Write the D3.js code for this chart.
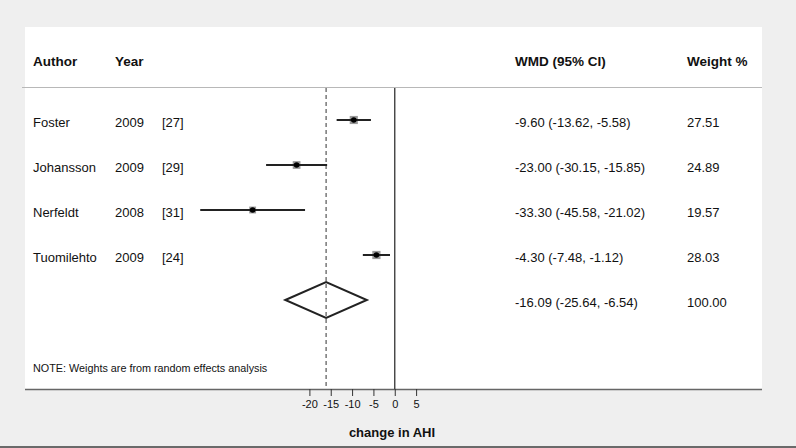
<!DOCTYPE html>
<html><head><meta charset="utf-8">
<script src="https://cdn.jsdelivr.net/npm/d3@7"></script>
<style>html,body{margin:0;padding:0;background:#efefef;}svg{display:block;font-family:"Liberation Sans",Arial,sans-serif;}</style>
</head><body>
<svg id="c" width="796" height="448"></svg>
<script>
const authors = ["Foster", "Johansson", "Nerfeldt", "Tuomilehto"];
const years = ["2009", "2009", "2008", "2009"];
const refs = ["[27]", "[29]", "[31]", "[24]"];
const wmd = [-9.60, -23.00, -33.30, -4.30];
const lower = [-13.62, -30.15, -45.58, -7.48];
const upper = [-5.58, -15.85, -21.02, -1.12];
const weights = [27.51, 24.89, 19.57, 28.03];
const pooled = {est: -16.09, lo: -25.64, hi: -6.54, weight: 100.00};
const xTicks = [-20, -15, -10, -5, 0, 5];
const xLabel = "change in AHI";
const note = "NOTE: Weights are from random effects analysis";

const svg = d3.select("#c");
const loc = d3.formatLocale({decimal: ".", thousands: ",", grouping: [3], currency: ["", ""], minus: "-"});
const fmt = loc.format(".2f");

// background & panel
svg.append("rect").attr("x",0).attr("y",0).attr("width",796).attr("height",448).attr("fill","#efefef");
svg.append("rect").attr("x",25).attr("y",27).attr("width",737).attr("height",362).attr("fill","#ffffff");
svg.append("rect").attr("x",0).attr("y",446).attr("width",796).attr("height",2).attr("fill","#6a6a6a");
svg.append("line").attr("x1",22).attr("x2",762).attr("y1",87.5).attr("y2",87.5).attr("stroke","#b8b8b8").attr("stroke-width",1);
svg.append("line").attr("x1",25).attr("x2",762).attr("y1",389.5).attr("y2",389.5).attr("stroke","#666").attr("stroke-width",1.5);

const x = d3.scaleLinear().domain([-20, 5]).range([309.4, 416.1]);
const rowY = d3.scalePoint().domain(d3.range(5)).range([120, 300]);
const boxSize = d3.scaleSqrt().domain([0, 30]).range([0, 8.5]);

// headers
const hdr = svg.append("g").attr("font-weight","bold").attr("font-size",13.5).attr("fill","#111");
hdr.append("text").attr("x",33).attr("y",66).text("Author");
hdr.append("text").attr("x",115).attr("y",66).text("Year");
hdr.append("text").attr("x",515).attr("y",66).text("WMD (95% CI)");
hdr.append("text").attr("x",687).attr("y",66).text("Weight %");

// reference lines
svg.append("line").attr("x1",x(0)).attr("x2",x(0)).attr("y1",88).attr("y2",389).attr("stroke","#333").attr("stroke-width",1.3);
svg.append("line").attr("x1",x(pooled.est)).attr("x2",x(pooled.est)).attr("y1",88).attr("y2",389)
  .attr("stroke","#333").attr("stroke-width",1).attr("stroke-dasharray","4,3");

// rows
const rows = svg.append("g").attr("font-size",13).attr("fill","#111");
authors.forEach((a,i)=>{
  const y = rowY(i);
  rows.append("text").attr("x",33).attr("y",y+7).text(a);
  rows.append("text").attr("x",115).attr("y",y+7).text(years[i]);
  rows.append("text").attr("x",162).attr("y",y+7).text(refs[i]);
  rows.append("text").attr("x",515).attr("y",y+7).text(`${fmt(wmd[i])} (${fmt(lower[i])}, ${fmt(upper[i])})`);
  rows.append("text").attr("x",687).attr("y",y+7).text(fmt(weights[i]));
  const s = boxSize(weights[i]);
  svg.append("rect").attr("x",x(wmd[i])-s/2).attr("y",y-s/2).attr("width",s).attr("height",s).attr("fill","#9a9a9a");
  svg.append("line").attr("x1",x(lower[i])).attr("x2",x(upper[i])).attr("y1",y).attr("y2",y).attr("stroke","#222").attr("stroke-width",2);
  svg.append("circle").attr("cx",x(wmd[i])).attr("cy",y).attr("r",2.8).attr("fill","#000");
});
// pooled
const py = rowY(4);
rows.append("text").attr("x",515).attr("y",py+7).text(`${fmt(pooled.est)} (${fmt(pooled.lo)}, ${fmt(pooled.hi)})`);
rows.append("text").attr("x",687).attr("y",py+7).text(fmt(pooled.weight));
svg.append("path")
  .attr("d",`M${x(pooled.lo)},${py} L${x(pooled.est)},${py-18} L${x(pooled.hi)},${py} L${x(pooled.est)},${py+18} Z`)
  .attr("fill","none").attr("stroke","#222").attr("stroke-width",2);

// note
svg.append("text").attr("x",33).attr("y",372).attr("font-size",10.8).attr("fill","#111").text(note);

// axis
const ax = svg.append("g").attr("transform","translate(0,389)")
  .call(d3.axisBottom(x).tickValues(xTicks).tickSize(7).tickPadding(4).tickFormat(loc.format("d")));
ax.select(".domain").remove();
ax.selectAll(".tick line").attr("stroke","#333");
ax.selectAll(".tick text").attr("font-size",11).attr("fill","#111").attr("font-family","Liberation Sans, Arial, sans-serif");
svg.append("text").attr("x",392).attr("y",437).attr("text-anchor","middle").attr("font-size",13).attr("font-weight","bold").attr("fill","#111").text(xLabel);
</script>
</body></html>
